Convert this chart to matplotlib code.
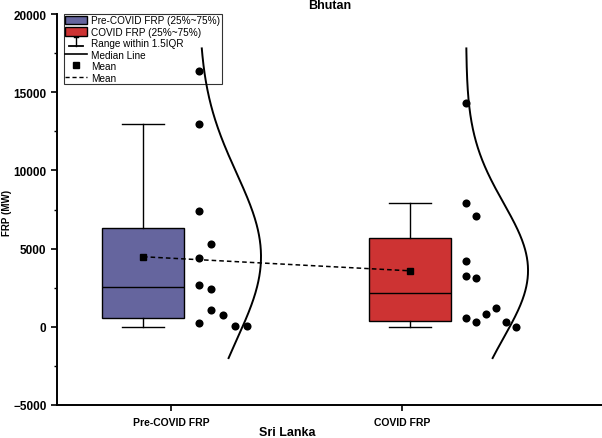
import numpy as np
import matplotlib.pyplot as plt
from matplotlib.patches import Patch
from matplotlib.lines import Line2D
from matplotlib.legend_handler import HandlerBase

plt.rcParams['font.family'] = ['Liberation Sans', 'DejaVu Sans']

# data
groups = ['Pre-COVID FRP', 'COVID FRP']
pre_frp = [16370, 12980, 7420, 5310, 4410, 2690, 2430, 1090, 770, 260, 64, 64]
covid_frp = [14320, 7930, 7100, 4220, 3260, 3130, 1210, 830, 575, 320, 320, 0]
# box stats: whisker low, q1, median, q3, whisker high, mean
pre_stats = [0, 575, 2560, 6330, 12980, 4480]
covid_stats = [0, 380, 2170, 5690, 7930, 3580]

# column slot of each point (side-by-side placement of overlapping dots)
pre_slot = [0, 0, 0, 1, 0, 0, 1, 1, 2, 0, 3, 4]
covid_slot = [0, 0, 1, 0, 0, 1, 3, 2, 0, 1, 4, 5]

colors = ['#65659e', '#cd3333']
pos = [1, 2]
tick_pos = [1.105, 1.97]

fig = plt.figure(figsize=(6.02, 4.39), dpi=100)
ax = fig.add_axes([57/602, 33/439, 545/602, 391/439])

for p, st, c in zip(pos, [pre_stats, covid_stats], colors):
    lo, q1, med, q3, hi, mean = st
    ax.bxp([dict(whislo=lo, q1=q1, med=med, q3=q3, whishi=hi, fliers=[])],
           positions=[p], widths=0.305, patch_artist=True, showfliers=False,
           boxprops=dict(facecolor=c, edgecolor='black', linewidth=1),
           medianprops=dict(color='black', linewidth=1),
           whiskerprops=dict(color='black', linewidth=1),
           capprops=dict(color='black', linewidth=1), capwidths=0.155)

means = [pre_stats[5], covid_stats[5]]
ax.plot(pos, means, color='black', linestyle=(0, (3, 2)), linewidth=1.1, zorder=4)
ax.plot(pos, means, 's', color='black', markersize=5, zorder=5)

# data points and normal curves (drawn above the legend, as in the original)
for p, vals, slots, step in [(1, pre_frp, pre_slot, 0.045), (2, covid_frp, covid_slot, 0.0375)]:
    vals = np.array(vals, dtype=float)
    xs = p + 0.21 + np.array(slots) * step
    ax.scatter(xs, vals, s=34, color='black', zorder=7, linewidths=0)
    mu, sd = vals.mean(), vals.std(ddof=1)
    yy = np.linspace(-2000, 17800, 300)
    xx = p + 0.21 + 0.232 * np.exp(-(yy - mu) ** 2 / (2 * sd ** 2))
    ax.plot(xx, yy, color='black', linewidth=1.4, zorder=7)

ax.set_xlim(0.678, 2.719)
ax.set_ylim(-5000, 20000)
ax.set_xticks(tick_pos)
ax.set_xticklabels(groups, fontsize=7.5, fontweight='bold')
ax.set_yticks([-5000, 0, 5000, 10000, 15000, 20000])
ax.set_yticks(np.arange(-2500, 20000, 5000), minor=True)
for lab in ax.get_yticklabels():
    lab.set_fontweight('bold')
    lab.set_fontsize(8.5)
ax.tick_params(axis='both', direction='out', length=4, width=1.2)
ax.tick_params(axis='x', pad=5)
ax.tick_params(axis='y', which='minor', length=2.5, width=1)
ax.spines['top'].set_visible(False)
ax.spines['right'].set_visible(False)
for s in ['left', 'bottom']:
    ax.spines[s].set_linewidth(1.4)

fig.text(7/602, 1 - 213/439, 'FRP (MW)', rotation=90, ha='center', va='center',
         fontsize=7, fontweight='bold')
fig.text(330/602, 1.0, 'Bhutan', ha='center', va='top',
         fontsize=9, fontweight='bold')
fig.text(287/602, 1 - 427/439, 'Sri Lanka', ha='center', va='top',
         fontsize=9, fontweight='bold')


class WhiskerHandler(HandlerBase):
    def create_artists(self, legend, orig, xd, yd, w, h, fontsize, trans):
        cx = xd + w / 2
        v = Line2D([cx, cx], [yd, yd + h], color='black', lw=1, transform=trans)
        t = Line2D([cx - w * 0.3, cx + w * 0.3], [yd, yd], color='black', lw=1.3, transform=trans)
        b = Line2D([cx - w * 0.1, cx + w * 0.1], [yd + h, yd + h], color='black', lw=1, transform=trans)
        return [v, t, b]


whisker = Line2D([], [], color='black')
handles = [Patch(facecolor=colors[0], edgecolor='black'),
           Patch(facecolor=colors[1], edgecolor='black'),
           whisker,
           Line2D([], [], color='black', lw=1.2),
           Line2D([], [], marker='s', color='black', linestyle='none', markersize=5),
           Line2D([], [], color='black', linestyle=(0, (3, 2)), lw=1)]
labels = ['Pre-COVID FRP (25%~75%)', 'COVID FRP (25%~75%)', 'Range within 1.5IQR',
          'Median Line', 'Mean', 'Mean']
leg = ax.legend(handles, labels, loc='upper left', bbox_to_anchor=(0.012, 1.0),
                fontsize=7.2, frameon=True, fancybox=False, edgecolor='black',
                handlelength=2.2, handleheight=0.9, handletextpad=0.4,
                labelspacing=0.14, borderpad=0.15, borderaxespad=0,
                handler_map={whisker: WhiskerHandler()})
leg.get_frame().set_linewidth(0.8)
leg.set_zorder(6)

fig.savefig('out.png', dpi=100)
